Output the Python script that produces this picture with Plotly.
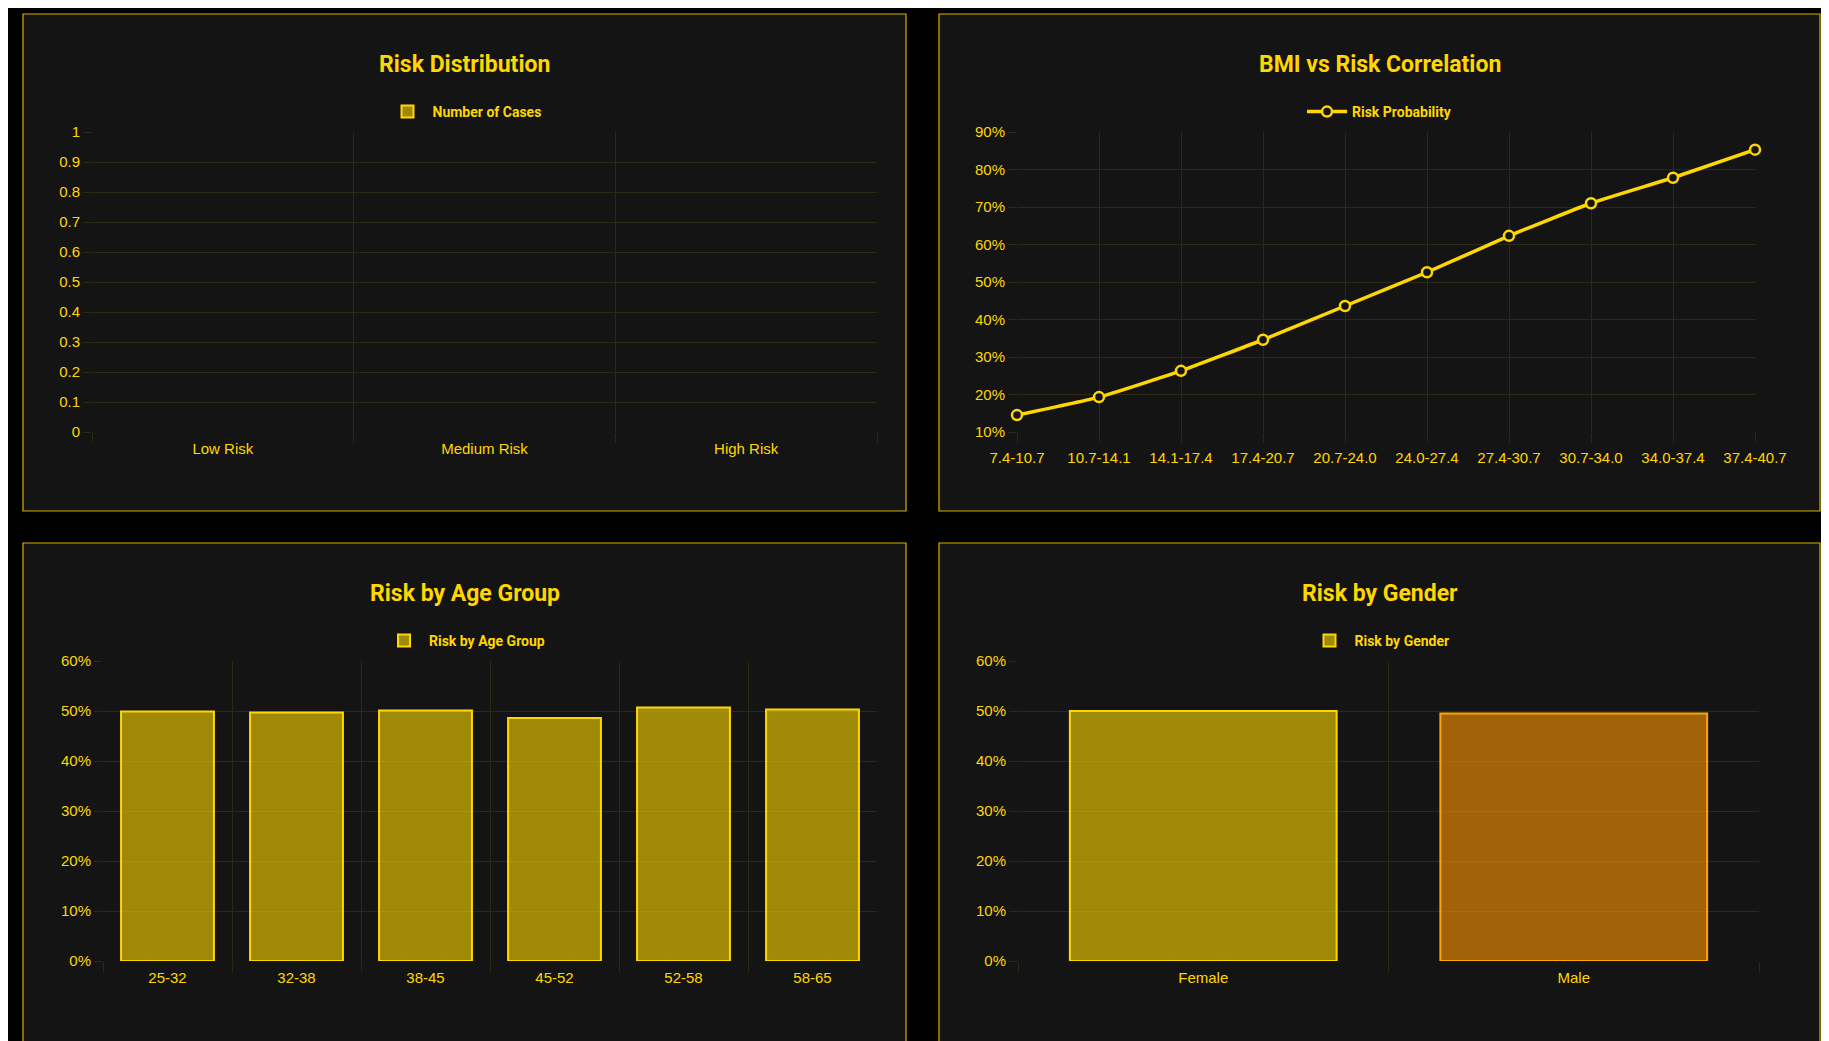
import plotly.graph_objects as go

risk_levels = ["Low Risk", "Medium Risk", "High Risk"]
risk_counts = [None, None, None]

bmi_ranges = ["7.4-10.7", "10.7-14.1", "14.1-17.4", "17.4-20.7", "20.7-24.0",
              "24.0-27.4", "27.4-30.7", "30.7-34.0", "34.0-37.4", "37.4-40.7"]
bmi_risk = [0.145, 0.193, 0.263, 0.346, 0.436, 0.526, 0.623, 0.710, 0.778, 0.853]

age_groups = ["25-32", "32-38", "38-45", "45-52", "52-58", "58-65"]
age_risk = [0.499, 0.497, 0.501, 0.486, 0.507, 0.503]

genders = ["Female", "Male"]
gender_risk = [0.500, 0.495]

GOLD = "#FFD700"
GRID = "#2c2a14"
W, H = 1829, 1041
OFF = 8  # page body margin


def px(x):
    return (x - OFF) / W


def py(y):
    return 1 - (y - OFF) / H


fig = go.Figure()

fig.add_trace(go.Bar(x=risk_levels, y=risk_counts, name="Number of Cases",
                     marker=dict(color="rgba(255,215,0,0.6)", line=dict(color=GOLD, width=2)),
                     xaxis="x", yaxis="y", legend="legend"))
fig.add_trace(go.Scatter(x=bmi_ranges, y=bmi_risk, name="Risk Probability", mode="lines+markers",
                         line=dict(color=GOLD, width=3.5, shape="spline", smoothing=0.4),
                         marker=dict(size=10, color="#141414", line=dict(color=GOLD, width=2.5)),
                         cliponaxis=False, xaxis="x2", yaxis="y2", legend="legend2"))
fig.add_trace(go.Bar(x=age_groups, y=age_risk, name="Risk by Age Group", width=0.72,
                     marker=dict(color="rgba(255,215,0,0.6)", line=dict(color=GOLD, width=2)),
                     xaxis="x3", yaxis="y3", legend="legend3"))
fig.add_trace(go.Bar(x=genders, y=gender_risk, name="Risk by Gender", width=0.72,
                     marker=dict(color=["rgba(255,215,0,0.6)", "rgba(255,150,0,0.6)"],
                                 line=dict(color=[GOLD, "#FFA500"], width=2)),
                     xaxis="x4", yaxis="y4", legend="legend4"))

tick_font = dict(family="Liberation Sans, Arial", size=15, color=GOLD)
panels = [  # (box x0, x1, y0, y1), plot (x0, x1, y0, y1), title
    ((23, 906, 14, 511), (92, 877, 132, 432), "Risk Distribution"),
    ((939, 1820, 14, 511), (1017, 1755, 132, 432), "BMI vs Risk Correlation"),
    ((23, 906, 543, 1060), (103, 877, 661, 961), "Risk by Age Group"),
    ((939, 1820, 543, 1060), (1018, 1759, 661, 961), "Risk by Gender"),
]

layout = dict(width=W, height=H, margin=dict(l=0, r=0, t=0, b=0, autoexpand=False),
              paper_bgcolor="#000000", plot_bgcolor="#141414", showlegend=True,
              shapes=[], annotations=[], bargap=0.28)
for i, (box, plot, title) in enumerate(panels):
    n = "" if i == 0 else str(i + 1)
    layout["shapes"].append(dict(type="rect", xref="paper", yref="paper", layer="below",
                                 x0=px(box[0]), x1=px(box[1]), y0=py(box[3]), y1=py(box[2]),
                                 fillcolor="#141414", line=dict(color="#d4b000", width=1.2)))
    layout["annotations"].append(dict(text=f"<b>{title}</b>", xref="paper", yref="paper",
                                      x=px((box[0] + box[1]) / 2), y=py(box[2] + 50),
                                      showarrow=False, xanchor="center", yanchor="middle",
                                      font=dict(family="Roboto", size=23, color=GOLD)))
    layout["legend" + n] = dict(x=px((box[0] + box[1]) / 2), y=py(box[2] + 98),
                                xanchor="center", yanchor="middle", orientation="h",
                                bgcolor="rgba(0,0,0,0)", itemwidth=40,
                                font=dict(family="Roboto", size=14, color=GOLD, weight="bold"))
    layout["xaxis" + n] = dict(domain=[px(plot[0]), px(plot[1])], anchor="y" + n,
                               type="category", showgrid=True, gridcolor=GRID, showline=False,
                               zeroline=False, tickfont=tick_font, ticks="outside",
                               ticklen=10, tickcolor=GRID, ticklabelstandoff=6,
                               automargin=False,
                               tickson="boundaries" if i != 1 else None)
    layout["yaxis" + n] = dict(domain=[py(plot[3]), py(plot[2])], anchor="x" + n,
                               showgrid=True, gridcolor=GRID, zeroline=False, automargin=False,
                               tickfont=tick_font, ticks="outside", ticklen=8, tickcolor=GRID)

layout["yaxis"].update(range=[0, 1], dtick=0.1)
layout["xaxis"].update(range=[-0.5, 2.5])
layout["xaxis2"].update(range=[0, 9], ticklabelstandoff=2)
layout["yaxis2"].update(range=[0.1, 0.9], dtick=0.1, tickformat=".0%")
layout["yaxis3"].update(range=[0, 0.6], dtick=0.1, tickformat=".0%")
layout["yaxis4"].update(range=[0, 0.6], dtick=0.1, tickformat=".0%")
layout["xaxis3"].update(range=[-0.5, 5.5])
layout["xaxis4"].update(range=[-0.5, 1.5])

fig.update_layout(**layout)
fig.write_html("out.html")
